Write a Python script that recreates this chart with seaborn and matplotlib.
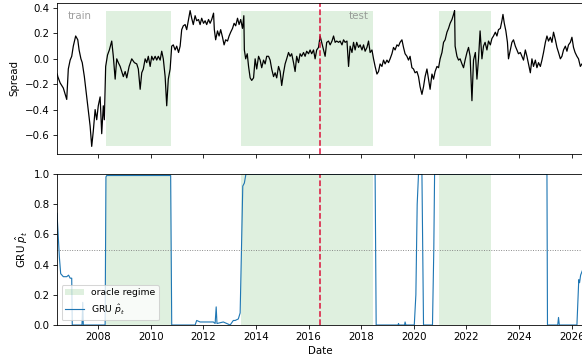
import matplotlib
matplotlib.use("Agg")
import matplotlib.pyplot as plt
import matplotlib.dates as mdates
import matplotlib.ticker as mticker
import matplotlib.transforms as mtransforms
from matplotlib.patches import Patch
from matplotlib.lines import Line2D
import pandas as pd
import seaborn as sns

# Spread series (decimal years, spread value)
spread_years = [
    2006.45, 2006.47, 2006.56, 2006.68, 2006.81, 2006.87, 2006.94, 2007.00, 2007.06, 2007.15,
    2007.23, 2007.28, 2007.35, 2007.40, 2007.48, 2007.57, 2007.63, 2007.70, 2007.76, 2007.82,
    2007.89, 2007.95, 2008.01, 2008.08, 2008.14, 2008.20, 2008.24, 2008.29, 2008.36, 2008.43,
    2008.52, 2008.58, 2008.65, 2008.71, 2008.77, 2008.84, 2008.90, 2008.96, 2009.03, 2009.09,
    2009.18, 2009.28, 2009.38, 2009.47, 2009.53, 2009.60, 2009.66, 2009.72, 2009.79, 2009.85,
    2009.91, 2009.98, 2010.04, 2010.10, 2010.17, 2010.23, 2010.29, 2010.36, 2010.42, 2010.48,
    2010.55, 2010.61, 2010.67, 2010.74, 2010.80, 2010.86, 2010.93, 2010.99, 2011.06, 2011.12,
    2011.18, 2011.24,
    2011.31, 2011.37, 2011.44, 2011.50, 2011.56, 2011.62, 2011.69, 2011.75, 2011.82, 2011.88,
    2011.94, 2012.01, 2012.07, 2012.13, 2012.20, 2012.26, 2012.32, 2012.39, 2012.42, 2012.47,
    2012.54, 2012.60, 2012.66, 2012.73, 2012.79, 2012.85, 2012.92, 2012.98, 2013.04, 2013.11,
    2013.17, 2013.23, 2013.30, 2013.36, 2013.42, 2013.49, 2013.54, 2013.56, 2013.61, 2013.67,
    2013.72, 2013.78, 2013.84, 2013.91, 2013.97, 2014.03, 2014.10, 2014.16, 2014.22, 2014.29,
    2014.35, 2014.41, 2014.48, 2014.54, 2014.60, 2014.67, 2014.73, 2014.79, 2014.86, 2014.92,
    2014.98, 2015.05, 2015.11, 2015.17, 2015.24, 2015.30, 2015.36, 2015.43, 2015.49, 2015.55,
    2015.62, 2015.68, 2015.74, 2015.81, 2015.87, 2015.93, 2016.00, 2016.06, 2016.12, 2016.19,
    2016.25, 2016.31, 2016.38, 2016.44, 2016.50, 2016.57, 2016.63, 2016.69, 2016.76, 2016.82,
    2016.89, 2016.95, 2017.01, 2017.07, 2017.14, 2017.20, 2017.27, 2017.33, 2017.39, 2017.46,
    2017.52, 2017.58, 2017.65, 2017.71, 2017.77, 2017.83, 2017.90, 2017.96, 2018.03, 2018.09,
    2018.15, 2018.22, 2018.28, 2018.34, 2018.41, 2018.47, 2018.53, 2018.60, 2018.66, 2018.72,
    2018.79, 2018.85, 2018.91, 2018.98, 2019.04, 2019.10, 2019.17, 2019.23, 2019.29, 2019.36,
    2019.42, 2019.48, 2019.55, 2019.61, 2019.67, 2019.74, 2019.80, 2019.86, 2019.93, 2019.99,
    2020.05, 2020.12, 2020.18, 2020.24, 2020.31, 2020.37, 2020.43, 2020.50, 2020.56, 2020.62,
    2020.69, 2020.75, 2020.81, 2020.88, 2020.94, 2021.00, 2021.07, 2021.13, 2021.19, 2021.26,
    2021.32, 2021.38, 2021.45, 2021.51, 2021.55, 2021.57, 2021.64, 2021.70, 2021.76, 2021.83,
    2021.89, 2021.95, 2022.02, 2022.08, 2022.14, 2022.21, 2022.27, 2022.34, 2022.40, 2022.46,
    2022.52, 2022.59, 2022.65, 2022.71, 2022.78, 2022.84, 2022.91, 2022.97, 2023.03, 2023.10,
    2023.16, 2023.22, 2023.29, 2023.35, 2023.39, 2023.44, 2023.50, 2023.56, 2023.60, 2023.67,
    2023.73, 2023.79, 2023.86, 2023.92, 2023.98, 2024.05, 2024.11, 2024.17, 2024.24, 2024.30,
    2024.36, 2024.43, 2024.49, 2024.55, 2024.62, 2024.68, 2024.74, 2024.81, 2024.87, 2024.93,
    2025.00, 2025.06, 2025.12, 2025.19, 2025.25, 2025.31, 2025.38, 2025.44, 2025.50, 2025.57,
    2025.63, 2025.69, 2025.76, 2025.82, 2025.88, 2025.95, 2026.01, 2026.07, 2026.13, 2026.20,
    2026.26, 2026.33, 2026.39, 2026.45,
]
spread_values = [
    -0.12, -0.14, -0.19, -0.23, -0.32, -0.08, -0.01, 0.02, 0.10, 0.18,
    0.15, 0.07, 0.00, -0.03, -0.14, -0.30, -0.40, -0.53, -0.69, -0.57,
    -0.40, -0.48, -0.37, -0.30, -0.59, -0.37, -0.48, -0.06, 0.03, 0.07,
    0.14, 0.02, -0.16, 0.00, -0.03, -0.06, -0.10, -0.14, -0.10, -0.15,
    -0.06, 0.00, -0.03, -0.04, -0.08, -0.24, -0.11, -0.08, 0.00, -0.03,
    0.02, -0.06, 0.02, -0.01, 0.02, -0.01, 0.02, -0.01, 0.06, 0.00,
    -0.14, -0.37, -0.16, -0.08, 0.10, 0.11, 0.07, 0.10, 0.05, 0.10,
    0.23, 0.26,
    0.27, 0.23, 0.31, 0.38, 0.32, 0.27, 0.34, 0.30, 0.31, 0.27,
    0.32, 0.28, 0.30, 0.27, 0.31, 0.28, 0.31, 0.36, 0.23, 0.15,
    0.22, 0.18, 0.23, 0.17, 0.11, 0.15, 0.14, 0.18, 0.21, 0.24,
    0.28, 0.26, 0.32, 0.27, 0.31, 0.24, 0.34, 0.07, 0.00, 0.04,
    -0.06, -0.15, -0.17, -0.15, 0.00, -0.08, 0.02, -0.01, -0.07, -0.01,
    -0.04, 0.02, 0.02, -0.01, -0.08, -0.14, -0.11, -0.15, -0.06, -0.10,
    -0.21, -0.11, -0.04, 0.00, 0.05, 0.02, 0.04, -0.03, -0.10, 0.02,
    -0.03, 0.04, 0.02, 0.05, 0.02, 0.06, 0.04, 0.07, 0.04, 0.07,
    0.00, 0.07, 0.09, 0.18, 0.13, 0.07, 0.02, 0.13, 0.14, 0.11,
    0.14, 0.18, 0.13, 0.14, 0.13, 0.14, 0.11, 0.15, 0.13, 0.14,
    -0.06, 0.10, 0.05, 0.13, 0.07, 0.13, 0.09, 0.11, 0.07, 0.11,
    0.06, 0.09, 0.14, 0.05, 0.07, 0.00, -0.06, -0.12, -0.10, -0.04,
    -0.06, -0.01, -0.04, -0.01, -0.03, 0.00, 0.04, 0.09, 0.07, 0.11,
    0.10, 0.13, 0.15, 0.09, 0.04, 0.02, -0.01, 0.02, -0.07, -0.08,
    -0.11, -0.10, -0.14, -0.22, -0.28, -0.22, -0.14, -0.08, -0.16, -0.24,
    -0.12, -0.16, -0.10, -0.06, -0.07, 0.00, 0.05, 0.13, 0.15, 0.21,
    0.24, 0.28, 0.31, 0.35, 0.38, 0.10, 0.02, -0.01, 0.00, -0.04,
    -0.07, -0.01, 0.05, 0.09, 0.02, -0.33, -0.01, 0.05, -0.16, 0.00,
    0.22, 0.00, 0.10, 0.13, 0.07, 0.14, 0.11, 0.16, 0.18, 0.21,
    0.18, 0.23, 0.24, 0.30, 0.35, 0.28, 0.22, 0.13, 0.00, 0.07,
    0.13, 0.15, 0.10, 0.07, 0.04, 0.05, 0.02, -0.01, 0.07, 0.02,
    -0.04, -0.11, 0.00, -0.06, -0.01, -0.07, -0.03, -0.06, -0.01, 0.05,
    0.13, 0.18, 0.14, 0.17, 0.13, 0.21, 0.15, 0.09, 0.05, 0.00,
    0.02, 0.07, 0.10, 0.06, 0.11, 0.13, 0.17, 0.09, 0.05, 0.02,
    0.00, -0.06, -0.04, -0.05,
]

# GRU regime probability
gru_years = [
    2006.44, 2006.49, 2006.53, 2006.58, 2006.68, 2006.81, 2006.88, 2006.94, 2007.00, 2007.02,
    2007.06, 2007.39, 2007.42, 2007.44, 2008.27, 2008.30, 2008.33, 2010.76, 2010.78, 2010.80,
    2011.69, 2011.75, 2011.88, 2012.13, 2012.38, 2012.45, 2012.49, 2012.52, 2012.76, 2013.02,
    2013.14, 2013.21, 2013.33, 2013.40, 2013.45, 2013.50, 2013.56, 2013.62, 2018.53, 2018.57,
    2019.40, 2019.42, 2019.44, 2019.65, 2019.67, 2019.70, 2020.02, 2020.08, 2020.13, 2020.18,
    2020.31, 2020.37, 2020.71, 2020.76, 2020.79, 2025.06, 2025.08, 2025.47, 2025.50, 2025.53,
    2026.20, 2026.27, 2026.30, 2026.34, 2026.45,
]
gru_values = [
    0.74, 0.58, 0.45, 0.34, 0.32, 0.32, 0.33, 0.31, 0.31, 0.00,
    0.00, 0.00, 0.15, 0.00, 0.00, 0.98, 0.99, 0.99, 0.50, 0.00,
    0.00, 0.03, 0.02, 0.02, 0.02, 0.01, 0.12, 0.01, 0.02, 0.00,
    0.03, 0.03, 0.04, 0.08, 0.50, 0.92, 0.94, 1.00, 1.00, 0.00,
    0.00, 0.01, 0.00, 0.00, 0.02, 0.00, 0.00, 0.20, 0.80, 1.00,
    1.00, 0.00, 0.00, 0.50, 1.00, 1.00, 0.00, 0.00, 0.05, 0.00,
    0.00, 0.30, 0.28, 0.33, 0.38,
]

# Oracle regime intervals and train/test split
regime_start = [2008.30, 2013.44, 2020.97]
regime_end = [2010.78, 2018.46, 2022.94]
split_year = 2016.44
x_range = [2006.44, 2026.45]


def to_date(y):
    year = int(y)
    start = pd.Timestamp(year=year, month=1, day=1)
    end = pd.Timestamp(year=year + 1, month=1, day=1)
    return start + (end - start) * (y - year)


spread_df = pd.DataFrame({"Date": [to_date(y) for y in spread_years],
                          "Spread": spread_values})
gru_df = pd.DataFrame({"Date": [to_date(y) for y in gru_years],
                       "p": gru_values})

green = "tab:green"
blue = "tab:blue"
W, H, DPI = 582, 362, 74
fig = plt.figure(figsize=(W / DPI, H / DPI), dpi=DPI)
ax1 = fig.add_axes([57 / W, 1 - 154 / H, (583.5 - 57) / W, 151 / H])
ax2 = fig.add_axes([57 / W, 1 - 325 / H, (583.5 - 57) / W, 151 / H], sharex=ax1)

# --- top panel: spread ---
lo, hi = min(spread_values), max(spread_values)
for s, e in zip(regime_start, regime_end):
    ax1.fill_between([to_date(s), to_date(e)], lo, hi, color=green, alpha=0.15, lw=0)
sns.lineplot(data=spread_df, x="Date", y="Spread", ax=ax1, color="black", lw=1.2)
ax1.axvline(to_date(split_year), color="crimson", ls="--", lw=1.5)
ax1.set_ylim(-0.75, 0.44)
ax1.yaxis.set_major_locator(mticker.MultipleLocator(0.2))
ax1.set_xlabel("")
ax1.set_ylabel("Spread", labelpad=6)
ax1.text(0.02, 0.95, "train", transform=ax1.transAxes, ha="left", va="top",
         color="gray", alpha=0.75, fontsize=10)
blend = mtransforms.blended_transform_factory(ax1.transData, ax1.transAxes)
ax1.text(mdates.date2num(to_date(2018.27)), 0.95, "test", transform=blend,
         ha="right", va="top", color="gray", alpha=0.75, fontsize=10)
plt.setp(ax1.get_xticklabels(), visible=False)

# --- bottom panel: GRU probability ---
for s, e in zip(regime_start, regime_end):
    ax2.axvspan(to_date(s), to_date(e), color=green, alpha=0.15, lw=0)
sns.lineplot(data=gru_df, x="Date", y="p", ax=ax2, color=blue, lw=1.1)
ax2.axhline(0.5, color="gray", ls=":", lw=0.9)
ax2.axvline(to_date(split_year), color="crimson", ls="--", lw=1.5)
ax2.set_ylim(0, 1)
ax2.set_ylabel(r"GRU $\hat{p}_t$")
ax2.set_xlabel("Date")
handles = [Patch(facecolor=green, alpha=0.15, edgecolor="none", label="oracle regime"),
           Line2D([0], [0], color=blue, lw=1.1, label=r"GRU $\hat{p}_t$")]
ax2.legend(handles=handles, loc="lower left", fontsize=9)

ax2.set_xlim(to_date(x_range[0]), to_date(x_range[1]))
ax2.xaxis.set_major_locator(mdates.YearLocator(2))
ax2.xaxis.set_major_formatter(mdates.DateFormatter("%Y"))

fig.savefig("out.png", dpi=DPI)
